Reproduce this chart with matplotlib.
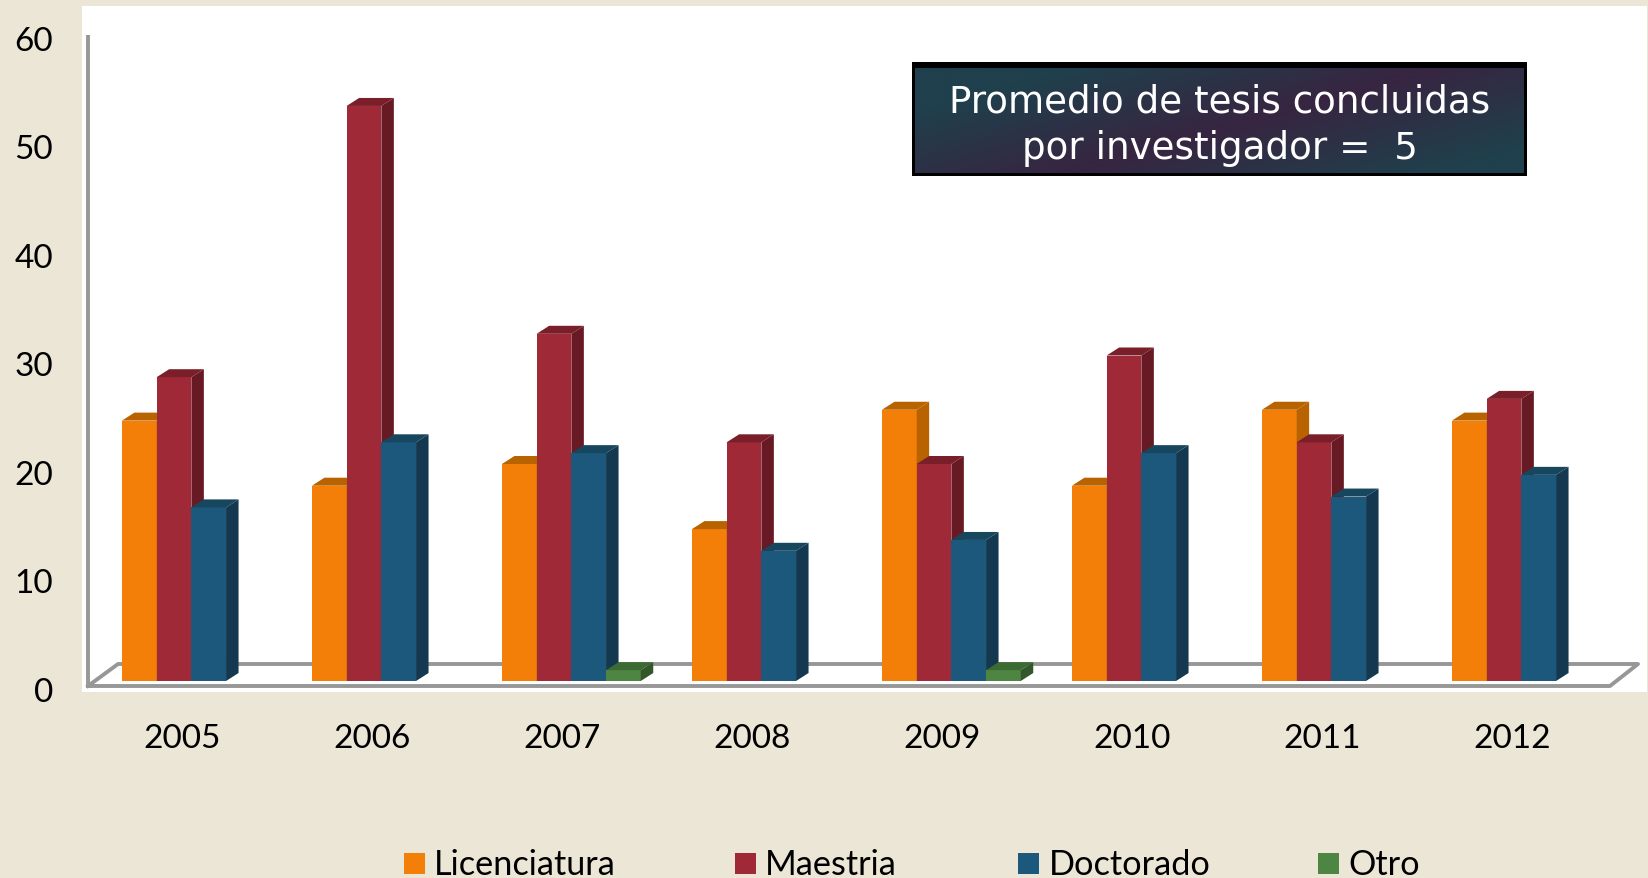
import matplotlib
matplotlib.use("Agg")
import matplotlib.pyplot as plt
from matplotlib.patches import Polygon, Rectangle
from matplotlib.transforms import ScaledTranslation
import numpy as np

# data
years = ['2005', '2006', '2007', '2008', '2009', '2010', '2011', '2012']
licenciatura = [24, 18, 20, 14, 25, 18, 25, 24]
maestria = [28, 53, 32, 22, 20, 30, 22, 26]
doctorado = [16, 22, 21, 12, 13, 21, 17, 19]
otro = [0, 0, 1, 0, 1, 0, 0, 0]
yticks = [0, 10, 20, 30, 40, 50, 60]

names = ['Licenciatura', 'Maestria', 'Doctorado', 'Otro']
front = ['#F47F08', '#9F2936', '#1B587C', '#4E8542']
top = ['#B96300', '#7A1F2A', '#17465F', '#3C6A33']
side = ['#B96300', '#681A24', '#14384F', '#33562B']

W, H = 1648, 879
bg = '#EBE6D6'
grey = '#979797'

plt.rcParams['font.family'] = ['Lato', 'DejaVu Sans']

fig = plt.figure(figsize=(W / 100, H / 100), dpi=100, facecolor=bg)

# white plot area, pixel box 82..1647 / 7..693
ax = fig.add_axes([82 / W, 1 - 693 / H, (1647 - 82) / W, (693 - 7) / H])
px_x = 190.0     # pixels per category
px_y = 10.85     # pixels per unit
ax.set_xlim((82 - 174) / px_x, (1647 - 174) / px_x)
ax.set_ylim(-6 / px_y, 680 / px_y)
for s in ax.spines.values():
    s.set_visible(False)

bw = 34.7 / px_x
dx = 12.5 / px_x
dy = 8 / px_y
base = 5 / px_y   # bars stand a bit behind the front floor line

# floor and wall
x_left = -86 / px_x
x_right = (1610 - 174) / px_x
back_y = 22 / px_y
lw = 2.8
ax.plot([x_left, x_left], [0, 60], color=grey, lw=lw, zorder=1, solid_capstyle='butt')
ax.plot([x_left, x_left + 30 / px_x, x_right + 28 / px_x, x_right, x_left],
        [0, back_y, back_y, 0, 0], color=grey, lw=lw, zorder=1)

series = [licenciatura, maestria, doctorado, otro]
for k, vals in enumerate(series):
    for i, v in enumerate(vals):
        if v == 0:
            continue
        x0 = i + (k - 1.5) * bw
        x1 = x0 + bw
        y0 = base
        y1 = base + v
        ax.bar(x0, v, bw, bottom=base, align='edge', color=front[k], lw=0, zorder=3 + k)
        ax.add_patch(Polygon([(x0, y1), (x0 + dx, y1 + dy), (x1 + dx, y1 + dy), (x1, y1)],
                             closed=True, fc=top[k], lw=0, zorder=3 + k))
        ax.add_patch(Polygon([(x1, y0), (x1 + dx, y0 + dy), (x1 + dx, y1 + dy), (x1, y1)],
                             closed=True, fc=side[k], lw=0, zorder=3 + k))

ax.tick_params(length=0)
ax.set_xticks(np.arange(len(years)) + 8 / px_x)
ax.set_xticklabels(years, fontsize=24)
ax.tick_params(axis='x', pad=22)
ax.set_yticks(yticks)
ax.set_yticklabels([str(t) for t in yticks], fontsize=24)
ax.tick_params(axis='y', pad=21)
down = ScaledTranslation(0, -3 / 100, fig.dpi_scale_trans)
for lab in ax.get_yticklabels():
    lab.set_transform(lab.get_transform() + down)

# note box: black frame, gradient inside, sizes in pixels
bx = fig.add_axes([912 / W, 1 - 177 / H, (1527 - 912) / W, (177 - 63) / H], facecolor='black')
gx, gy = np.meshgrid(np.linspace(0, 1, 300), np.linspace(0, 1, 60))
t = np.clip(1 - np.abs(gx - (0.85 - 0.6 * gy)) / 0.6, 0, 1) * 0.9
c1 = np.array([0x1F, 0x40, 0x4C]) / 255
c2 = np.array([0x3A, 0x22, 0x40]) / 255
img = c1[None, None, :] * (1 - t[..., None]) + c2[None, None, :] * t[..., None]
bx.imshow(img, aspect='auto', extent=[3, 612, 3, 108])
bx.set_xlim(0, 615)
bx.set_ylim(0, 114)
bx.set_xticks([])
bx.set_yticks([])
for s in bx.spines.values():
    s.set_visible(False)
bx.text(307.5, 52, 'Promedio de tesis concluidas\npor investigador =  5', color='white',
        ha='center', va='center', fontsize=26.8, family='DejaVu Sans', linespacing=1.32)

# legend along the bottom edge
leg_sw = [404, 735, 1018, 1318]
leg_tx = [434, 765, 1049, 1348]
for k, name in enumerate(names):
    fig.add_artist(Rectangle((leg_sw[k] / W, 1 - 875 / H), 21 / W, 21 / H, fc=front[k], lw=0,
                             transform=fig.transFigure))
    fig.text(leg_tx[k] / W, 1 - 875 / H, name, fontsize=24.7, color='black', ha='left', va='baseline')

fig.savefig('out.png', dpi=100, facecolor=bg)
